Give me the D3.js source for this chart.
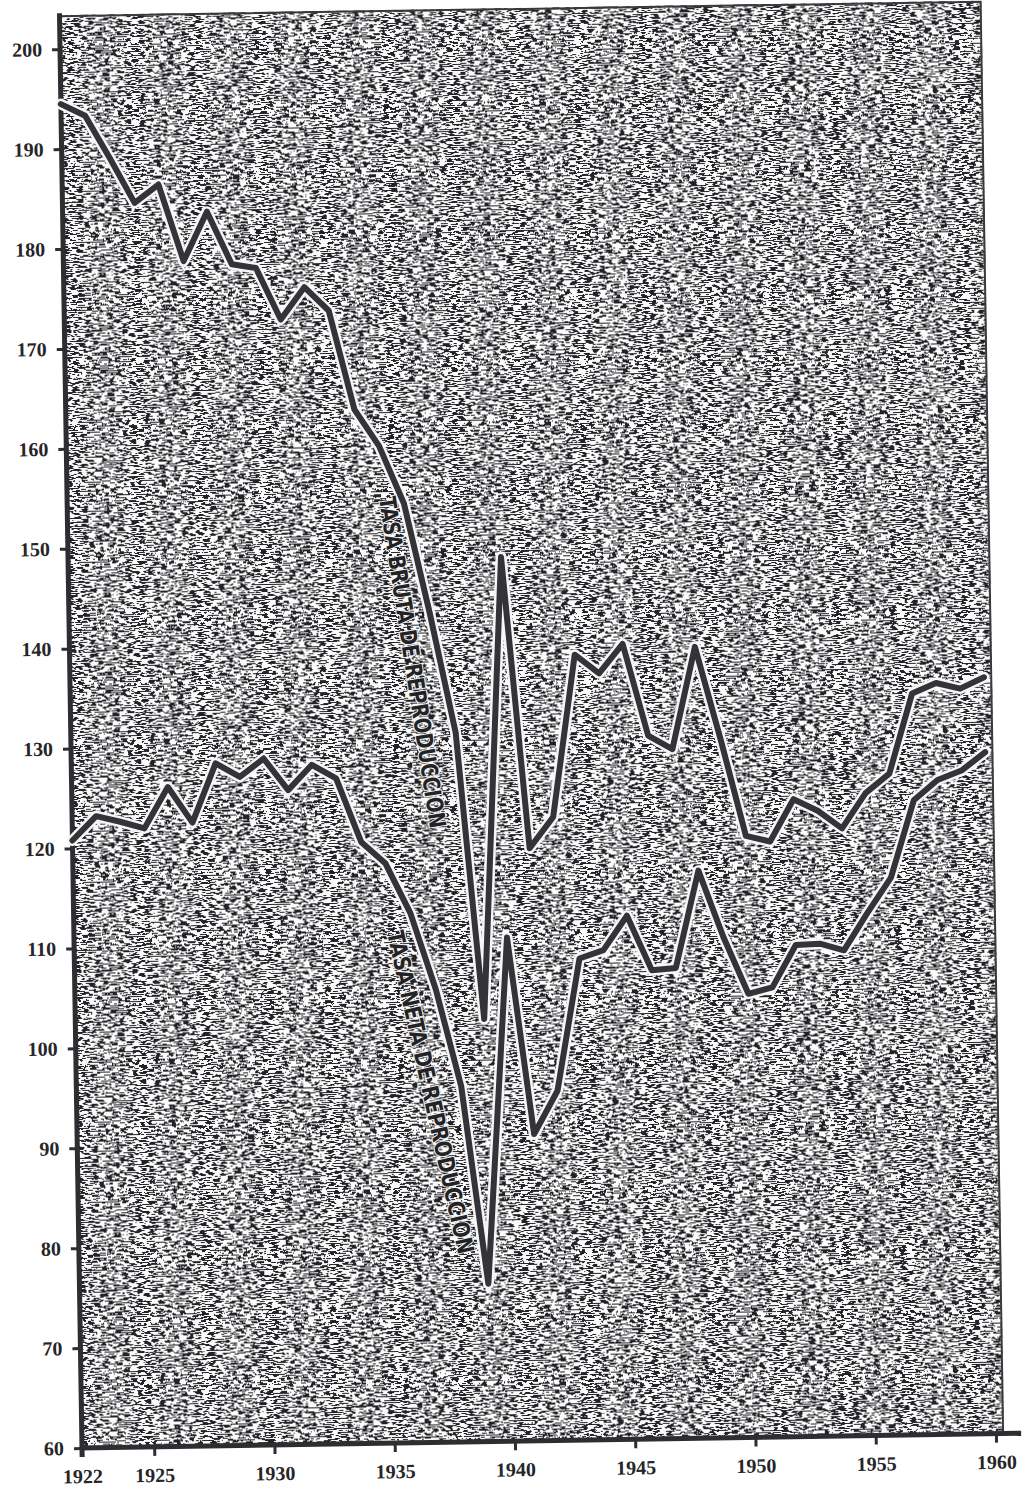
<!DOCTYPE html>
<html>
<head>
<meta charset="utf-8">
<script src="https://cdn.jsdelivr.net/npm/d3@7"></script>
<style>
  body { margin: 0; background: #fff; }
  .tick text { font-family: "Liberation Serif", "DejaVu Serif", serif; font-weight: bold; font-size: 20px; fill: #262628; }
  .tick line { stroke: #2e2e32; stroke-width: 3; }
  .eje { stroke: #2e2e32; stroke-width: 5; fill: none; }
  .borde { stroke: #3a3a3e; stroke-width: 2; fill: none; }
  .halo { fill: none; stroke: #f6f6f6; stroke-width: 11; stroke-linejoin: round; stroke-linecap: round; }
  .serie { fill: none; stroke: #333338; stroke-width: 6; stroke-linejoin: round; stroke-linecap: round; }
  .rotulo { font-family: "DejaVu Sans Condensed", "DejaVu Sans", sans-serif; font-weight: bold; font-size: 23px; fill: #232326;
            stroke: #f4f4f4; stroke-width: 2; paint-order: stroke; }
</style>
</head>
<body>
<div id="grafico"></div>
<script>
// datos
var years = [1922, 1923, 1924, 1925, 1926, 1927, 1928, 1929, 1930, 1931,
             1932, 1933, 1934, 1935, 1936, 1937, 1938, 1939, 1940, 1941,
             1942, 1943, 1944, 1945, 1946, 1947, 1948, 1949, 1950, 1951,
             1952, 1953, 1954, 1955, 1956, 1957, 1958, 1959, 1960];

var tasaBruta = [194.5, 193.3, 189.0, 184.5, 186.3, 178.6, 183.5, 178.2, 177.8, 172.6,
                 175.8, 173.4, 163.5, 159.8, 154.0, 143.0, 131.0, 102.3, 148.5, 119.3,
                 122.4, 138.6, 136.7, 139.6, 130.4, 129.0, 139.2, 130.0, 120.2, 119.6,
                 123.8, 122.6, 120.8, 124.3, 126.2, 134.2, 135.2, 134.6, 135.7];

var tasaNeta = [120.8, 123.2, 122.6, 121.9, 126.0, 122.4, 128.3, 126.9, 128.7, 125.5,
                128.0, 126.6, 120.2, 118.0, 113.0, 105.4, 95.6, 75.8, 110.4, 90.7,
                95.0, 108.2, 109.0, 112.4, 106.9, 107.1, 116.8, 110.1, 104.4, 105.0,
                109.2, 109.3, 108.6, 112.3, 115.8, 123.5, 125.5, 126.4, 128.2];

var yTicks = [60, 70, 80, 90, 100, 110, 120, 130, 140, 150, 160, 170, 180, 190, 200];
var xTicks = [1922, 1925, 1930, 1935, 1940, 1945, 1950, 1955, 1960];

var labelBruta = "TASA BRUTA DE REPRODUCCION";
var labelNeta = "TASA NETA DE REPRODUCCION";

var svgWidth = 1029;
var svgHeight = 1488;

// esquina del grafico (1922, 60) y leve giro del escaneo
var origin = { x: 82, y: 1448 };
var width = 914;
var height = 1433;
var tilt = -0.9;

var svg = d3.select("#grafico")
  .append("svg")
  .attr("width", svgWidth)
  .attr("height", svgHeight);

var chartGroup = svg.append("g")
  .attr("transform", `translate(${origin.x}, ${origin.y}) rotate(${tilt}) translate(0, ${-height})`);

var xScale = d3.scaleLinear()
  .domain([1922, 1960])
  .range([0, width]);

var yScale = d3.scaleLinear()
  .domain([60, 203.4])
  .range([height, 0]);

// textura del fondo (trama del papel)
var umbral = d3.range(40).map(i => (i < 21 ? 0 : 1)).join(" ");

var defs = svg.append("defs");
var grano = defs.append("filter")
  .attr("id", "grano")
  .attr("x", 0).attr("y", 0).attr("width", 1).attr("height", 1)
  .attr("color-interpolation-filters", "sRGB");
grano.append("feTurbulence")
  .attr("type", "fractalNoise")
  .attr("baseFrequency", "0.14 0.8")
  .attr("numOctaves", 3)
  .attr("seed", 4)
  .attr("result", "ruido");
grano.append("feColorMatrix")
  .attr("in", "ruido")
  .attr("type", "matrix")
  .attr("values", "0 0 0 0 0.13  0 0 0 0 0.13  0 0 0 0 0.15  1 0 0 0 0")
  .attr("result", "tinta");
grano.append("feComponentTransfer")
  .attr("in", "tinta")
  .attr("result", "puntos")
  .append("feFuncA")
  .attr("type", "discrete")
  .attr("tableValues", umbral);
grano.append("feFlood")
  .attr("flood-color", "#fbfbfb")
  .attr("result", "papel");
grano.append("feComposite")
  .attr("in", "puntos")
  .attr("in2", "papel")
  .attr("operator", "over");

var xEnd = xScale(1960.3);

chartGroup.append("rect")
  .attr("x", 0)
  .attr("y", 0)
  .attr("width", xEnd)
  .attr("height", height)
  .attr("fill", "#fff")
  .attr("filter", "url(#grano)");

chartGroup.append("path")
  .attr("class", "borde")
  .attr("d", `M0,1 H${xEnd} V${height}`);

// ejes
var leftAxis = d3.axisLeft(yScale)
  .tickValues(yTicks)
  .tickFormat(d3.format("d"))
  .tickSize(8)
  .tickSizeOuter(0)
  .tickPadding(10);

var bottomAxis = d3.axisBottom(xScale)
  .tickValues(xTicks)
  .tickFormat(d3.format("d"))
  .tickSize(9)
  .tickSizeOuter(0)
  .tickPadding(12);

var gLeft = chartGroup.append("g").call(leftAxis);
var gBottom = chartGroup.append("g")
  .attr("transform", `translate(0, ${height})`)
  .call(bottomAxis);
gLeft.select(".domain").remove();
gBottom.select(".domain").remove();

chartGroup.append("line")
  .attr("class", "eje")
  .attr("x1", 0).attr("y1", -2)
  .attr("x2", 0).attr("y2", height + 9);

chartGroup.append("line")
  .attr("class", "eje")
  .attr("x1", -2).attr("y1", height)
  .attr("x2", xScale(1961.05)).attr("y2", height);

// series
var line = d3.line()
  .x(d => xScale(d[0]))
  .y(d => yScale(d[1]));

var seriesData = [d3.zip(years, tasaBruta), d3.zip(years, tasaNeta)];

seriesData.forEach(function(s) {
  chartGroup.append("path")
    .attr("class", "halo")
    .attr("d", line(s));
});
seriesData.forEach(function(s) {
  chartGroup.append("path")
    .attr("class", "serie")
    .attr("d", line(s));
});

// rotulos sobre las curvas
chartGroup.append("text")
  .attr("class", "rotulo")
  .attr("transform", `translate(${xScale(1936.25)}, ${yScale(138.1)}) rotate(82.1)`)
  .attr("text-anchor", "middle")
  .attr("dominant-baseline", "central")
  .attr("textLength", 335)
  .attr("lengthAdjust", "spacingAndGlyphs")
  .text(labelBruta);

chartGroup.append("text")
  .attr("class", "rotulo")
  .attr("transform", `translate(${xScale(1936.72)}, ${yScale(95.05)}) rotate(78.4)`)
  .attr("text-anchor", "middle")
  .attr("dominant-baseline", "central")
  .attr("textLength", 330)
  .attr("lengthAdjust", "spacingAndGlyphs")
  .text(labelNeta);
</script>
</body>
</html>
